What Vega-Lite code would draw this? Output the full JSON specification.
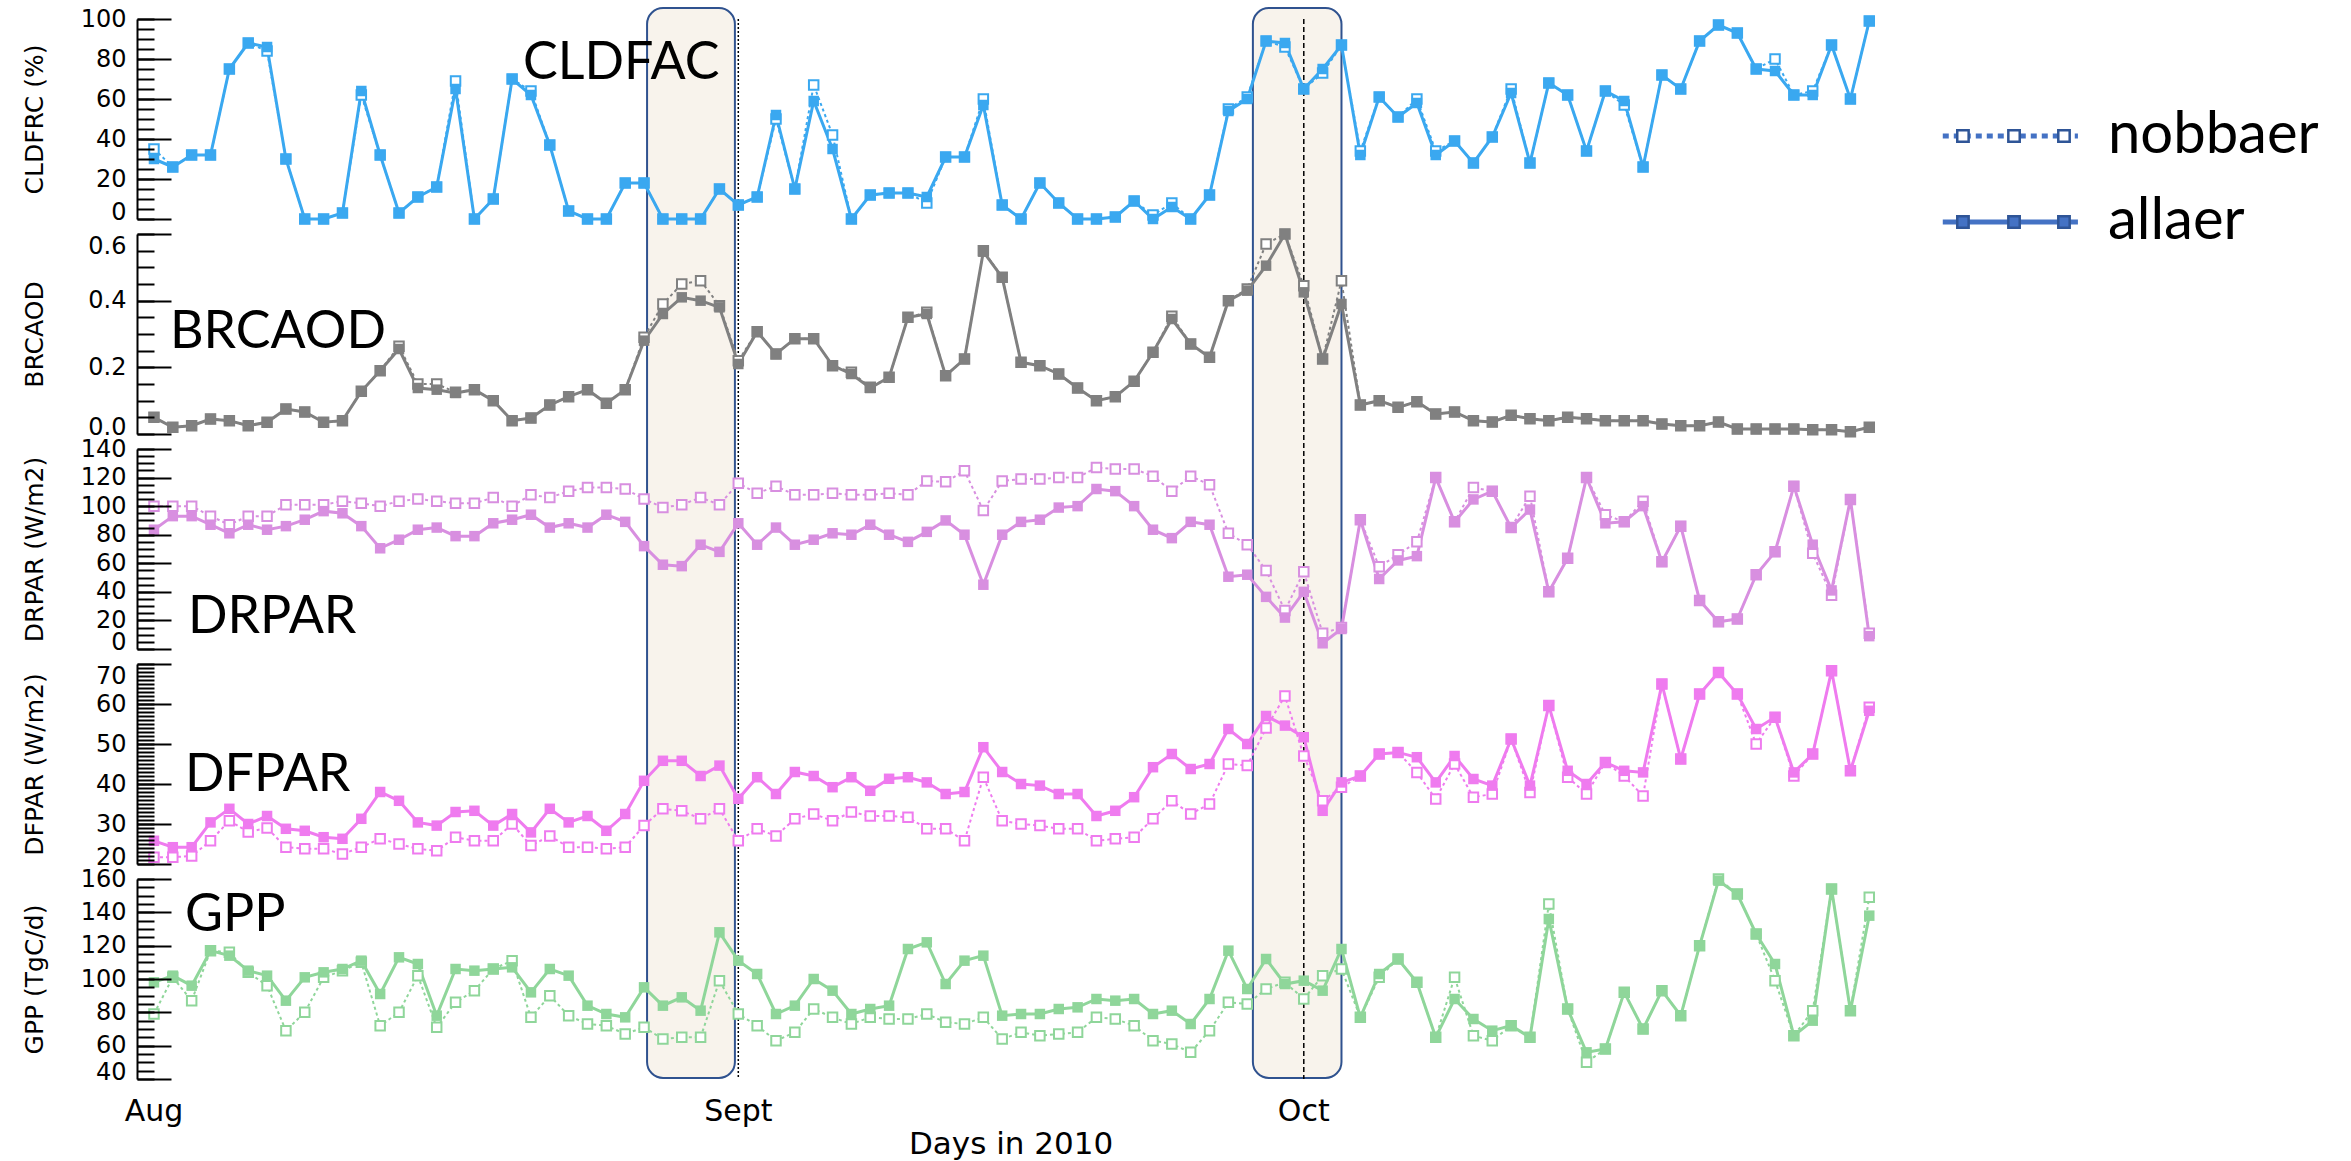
{
"$schema": "https://vega.github.io/schema/vega-lite/v6.json",
"background": "white",
"padding": {"left": 22, "top": 7, "right": 470, "bottom": 85},
"datasets": {
"days": [
{"doy":213,"cld_a":30,"cld_n":35,"brc_a":0.05,"brc_n":0.05,"drp_a":83.5,"drp_n":100,"dfp_a":25.8,"dfp_n":21.7,"gpp_a":98,"gpp_n":79},
{"doy":214,"cld_a":26,"cld_n":26,"brc_a":0.02,"brc_n":0.02,"drp_a":93,"drp_n":100,"dfp_a":24.2,"dfp_n":21.7,"gpp_a":102,"gpp_n":101},
{"doy":215,"cld_a":32,"cld_n":32,"brc_a":0.025,"brc_n":0.025,"drp_a":93,"drp_n":100,"dfp_a":24.2,"dfp_n":22,"gpp_a":96,"gpp_n":87},
{"doy":216,"cld_a":32,"cld_n":32,"brc_a":0.045,"brc_n":0.045,"drp_a":87,"drp_n":93,"dfp_a":30.4,"dfp_n":25.8,"gpp_a":117,"gpp_n":117},
{"doy":217,"cld_a":75,"cld_n":75,"brc_a":0.04,"brc_n":0.04,"drp_a":81,"drp_n":87,"dfp_a":33.8,"dfp_n":30.8,"gpp_a":114,"gpp_n":116},
{"doy":218,"cld_a":88,"cld_n":88,"brc_a":0.025,"brc_n":0.025,"drp_a":87,"drp_n":93,"dfp_a":30,"dfp_n":28,"gpp_a":105,"gpp_n":104},
{"doy":219,"cld_a":86,"cld_n":84,"brc_a":0.035,"brc_n":0.035,"drp_a":83.5,"drp_n":93,"dfp_a":32,"dfp_n":29,"gpp_a":102,"gpp_n":96},
{"doy":220,"cld_a":30,"cld_n":30,"brc_a":0.075,"brc_n":0.075,"drp_a":86,"drp_n":101,"dfp_a":28.8,"dfp_n":24.2,"gpp_a":87,"gpp_n":69},
{"doy":221,"cld_a":0,"cld_n":0,"brc_a":0.066,"brc_n":0.066,"drp_a":90.5,"drp_n":101,"dfp_a":28.3,"dfp_n":23.8,"gpp_a":101,"gpp_n":80},
{"doy":222,"cld_a":0,"cld_n":0,"brc_a":0.035,"brc_n":0.035,"drp_a":96.5,"drp_n":101,"dfp_a":26.7,"dfp_n":23.8,"gpp_a":104,"gpp_n":101},
{"doy":223,"cld_a":3,"cld_n":3,"brc_a":0.04,"brc_n":0.04,"drp_a":95,"drp_n":103.5,"dfp_a":26.3,"dfp_n":22.5,"gpp_a":106,"gpp_n":105},
{"doy":224,"cld_a":64,"cld_n":62,"brc_a":0.128,"brc_n":0.128,"drp_a":86,"drp_n":102,"dfp_a":31.3,"dfp_n":24.2,"gpp_a":111,"gpp_n":110},
{"doy":225,"cld_a":32,"cld_n":32,"brc_a":0.19,"brc_n":0.19,"drp_a":70.5,"drp_n":100,"dfp_a":38,"dfp_n":26.3,"gpp_a":91,"gpp_n":72},
{"doy":226,"cld_a":3,"cld_n":3,"brc_a":0.255,"brc_n":0.263,"drp_a":76.5,"drp_n":103.5,"dfp_a":35.8,"dfp_n":25,"gpp_a":113,"gpp_n":80},
{"doy":227,"cld_a":11,"cld_n":11,"brc_a":0.138,"brc_n":0.15,"drp_a":83.5,"drp_n":105,"dfp_a":30.4,"dfp_n":23.8,"gpp_a":109,"gpp_n":102},
{"doy":228,"cld_a":16,"cld_n":16,"brc_a":0.133,"brc_n":0.15,"drp_a":85,"drp_n":103.5,"dfp_a":29.6,"dfp_n":23.3,"gpp_a":78,"gpp_n":71},
{"doy":229,"cld_a":65,"cld_n":69,"brc_a":0.123,"brc_n":0.125,"drp_a":79,"drp_n":102,"dfp_a":33,"dfp_n":26.7,"gpp_a":106,"gpp_n":86},
{"doy":230,"cld_a":0,"cld_n":0,"brc_a":0.133,"brc_n":0.133,"drp_a":79,"drp_n":102,"dfp_a":33.3,"dfp_n":25.8,"gpp_a":105,"gpp_n":93},
{"doy":231,"cld_a":10,"cld_n":10,"brc_a":0.1,"brc_n":0.1,"drp_a":88,"drp_n":106,"dfp_a":29.6,"dfp_n":25.8,"gpp_a":106,"gpp_n":106},
{"doy":232,"cld_a":70,"cld_n":70,"brc_a":0.04,"brc_n":0.04,"drp_a":90.5,"drp_n":100,"dfp_a":32.5,"dfp_n":30,"gpp_a":107,"gpp_n":111},
{"doy":233,"cld_a":62,"cld_n":64,"brc_a":0.048,"brc_n":0.048,"drp_a":94,"drp_n":108,"dfp_a":27.9,"dfp_n":24.6,"gpp_a":92,"gpp_n":77},
{"doy":234,"cld_a":37,"cld_n":37,"brc_a":0.087,"brc_n":0.087,"drp_a":85,"drp_n":106,"dfp_a":33.8,"dfp_n":27,"gpp_a":106,"gpp_n":90},
{"doy":235,"cld_a":4,"cld_n":4,"brc_a":0.112,"brc_n":0.112,"drp_a":88,"drp_n":110.5,"dfp_a":30.4,"dfp_n":24.2,"gpp_a":102,"gpp_n":78},
{"doy":236,"cld_a":0,"cld_n":0,"brc_a":0.133,"brc_n":0.133,"drp_a":85,"drp_n":113,"dfp_a":32,"dfp_n":24.2,"gpp_a":84,"gpp_n":73},
{"doy":237,"cld_a":0,"cld_n":0,"brc_a":0.092,"brc_n":0.092,"drp_a":94,"drp_n":113,"dfp_a":28.3,"dfp_n":23.8,"gpp_a":79,"gpp_n":72},
{"doy":238,"cld_a":18,"cld_n":18,"brc_a":0.133,"brc_n":0.133,"drp_a":89,"drp_n":112,"dfp_a":32.5,"dfp_n":24.2,"gpp_a":77,"gpp_n":67},
{"doy":239,"cld_a":18,"cld_n":18,"brc_a":0.28,"brc_n":0.29,"drp_a":72,"drp_n":105,"dfp_a":40.8,"dfp_n":29.6,"gpp_a":95,"gpp_n":71},
{"doy":240,"cld_a":0,"cld_n":0,"brc_a":0.36,"brc_n":0.39,"drp_a":59,"drp_n":99,"dfp_a":45.8,"dfp_n":33.8,"gpp_a":84,"gpp_n":64},
{"doy":241,"cld_a":0,"cld_n":0,"brc_a":0.41,"brc_n":0.45,"drp_a":58,"drp_n":101,"dfp_a":45.8,"dfp_n":33.3,"gpp_a":89,"gpp_n":65},
{"doy":242,"cld_a":0,"cld_n":0,"brc_a":0.4,"brc_n":0.46,"drp_a":73,"drp_n":106,"dfp_a":42,"dfp_n":31.3,"gpp_a":81,"gpp_n":65},
{"doy":243,"cld_a":15,"cld_n":15,"brc_a":0.38,"brc_n":0.385,"drp_a":68,"drp_n":101,"dfp_a":44.6,"dfp_n":33.8,"gpp_a":128,"gpp_n":99},
{"doy":244,"cld_a":7,"cld_n":7,"brc_a":0.21,"brc_n":0.22,"drp_a":88,"drp_n":116,"dfp_a":36.3,"dfp_n":25.8,"gpp_a":111,"gpp_n":79},
{"doy":245,"cld_a":11,"cld_n":11,"brc_a":0.307,"brc_n":0.307,"drp_a":73,"drp_n":109,"dfp_a":41.7,"dfp_n":28.8,"gpp_a":103,"gpp_n":72},
{"doy":246,"cld_a":52,"cld_n":50,"brc_a":0.24,"brc_n":0.24,"drp_a":85,"drp_n":114,"dfp_a":37.5,"dfp_n":27,"gpp_a":79,"gpp_n":63},
{"doy":247,"cld_a":15,"cld_n":15,"brc_a":0.286,"brc_n":0.286,"drp_a":73,"drp_n":108,"dfp_a":43,"dfp_n":31.3,"gpp_a":84,"gpp_n":68},
{"doy":248,"cld_a":59,"cld_n":67,"brc_a":0.286,"brc_n":0.286,"drp_a":76.5,"drp_n":108,"dfp_a":42,"dfp_n":32.5,"gpp_a":100,"gpp_n":82},
{"doy":249,"cld_a":35,"cld_n":42,"brc_a":0.205,"brc_n":0.205,"drp_a":81,"drp_n":109,"dfp_a":39.2,"dfp_n":30.8,"gpp_a":93,"gpp_n":77},
{"doy":250,"cld_a":0,"cld_n":0,"brc_a":0.18,"brc_n":0.185,"drp_a":80,"drp_n":108,"dfp_a":41.7,"dfp_n":33,"gpp_a":79,"gpp_n":73},
{"doy":251,"cld_a":12,"cld_n":12,"brc_a":0.138,"brc_n":0.14,"drp_a":87,"drp_n":108,"dfp_a":38.3,"dfp_n":32,"gpp_a":82,"gpp_n":77},
{"doy":252,"cld_a":13,"cld_n":13,"brc_a":0.17,"brc_n":0.17,"drp_a":80,"drp_n":109,"dfp_a":41.3,"dfp_n":32,"gpp_a":84,"gpp_n":76},
{"doy":253,"cld_a":13,"cld_n":13,"brc_a":0.35,"brc_n":0.35,"drp_a":75,"drp_n":108,"dfp_a":41.7,"dfp_n":31.7,"gpp_a":118,"gpp_n":76},
{"doy":254,"cld_a":11,"cld_n":8,"brc_a":0.36,"brc_n":0.365,"drp_a":82,"drp_n":117.6,"dfp_a":40.4,"dfp_n":28.8,"gpp_a":122,"gpp_n":79},
{"doy":255,"cld_a":31,"cld_n":31,"brc_a":0.175,"brc_n":0.175,"drp_a":90,"drp_n":117,"dfp_a":37.5,"dfp_n":28.8,"gpp_a":97,"gpp_n":74},
{"doy":256,"cld_a":31,"cld_n":31,"brc_a":0.225,"brc_n":0.225,"drp_a":80,"drp_n":124.7,"dfp_a":38,"dfp_n":25.8,"gpp_a":111,"gpp_n":73},
{"doy":257,"cld_a":57,"cld_n":60,"brc_a":0.547,"brc_n":0.55,"drp_a":45,"drp_n":97,"dfp_a":49.2,"dfp_n":41.7,"gpp_a":114,"gpp_n":77},
{"doy":258,"cld_a":7,"cld_n":7,"brc_a":0.47,"brc_n":0.47,"drp_a":80,"drp_n":117.6,"dfp_a":43,"dfp_n":30.8,"gpp_a":78,"gpp_n":64},
{"doy":259,"cld_a":0,"cld_n":0,"brc_a":0.215,"brc_n":0.215,"drp_a":89,"drp_n":119,"dfp_a":40,"dfp_n":30,"gpp_a":79,"gpp_n":68},
{"doy":260,"cld_a":18,"cld_n":18,"brc_a":0.205,"brc_n":0.205,"drp_a":90.5,"drp_n":119,"dfp_a":39.6,"dfp_n":29.6,"gpp_a":79,"gpp_n":66},
{"doy":261,"cld_a":8,"cld_n":8,"brc_a":0.18,"brc_n":0.18,"drp_a":99,"drp_n":120,"dfp_a":37.5,"dfp_n":28.8,"gpp_a":82,"gpp_n":67},
{"doy":262,"cld_a":0,"cld_n":0,"brc_a":0.138,"brc_n":0.138,"drp_a":100,"drp_n":120,"dfp_a":37.5,"dfp_n":28.8,"gpp_a":83,"gpp_n":68},
{"doy":263,"cld_a":0,"cld_n":0,"brc_a":0.1,"brc_n":0.1,"drp_a":112,"drp_n":127,"dfp_a":32,"dfp_n":25.8,"gpp_a":88,"gpp_n":77},
{"doy":264,"cld_a":1,"cld_n":1,"brc_a":0.112,"brc_n":0.112,"drp_a":110.5,"drp_n":126,"dfp_a":33.3,"dfp_n":26.3,"gpp_a":87,"gpp_n":76},
{"doy":265,"cld_a":9,"cld_n":9,"brc_a":0.158,"brc_n":0.158,"drp_a":100,"drp_n":126,"dfp_a":36.7,"dfp_n":26.7,"gpp_a":88,"gpp_n":72},
{"doy":266,"cld_a":0,"cld_n":2,"brc_a":0.245,"brc_n":0.245,"drp_a":83.5,"drp_n":121,"dfp_a":44.2,"dfp_n":31.3,"gpp_a":79,"gpp_n":63},
{"doy":267,"cld_a":6,"cld_n":8,"brc_a":0.345,"brc_n":0.353,"drp_a":77.6,"drp_n":110.5,"dfp_a":47.5,"dfp_n":35.8,"gpp_a":81,"gpp_n":61},
{"doy":268,"cld_a":0,"cld_n":0,"brc_a":0.27,"brc_n":0.27,"drp_a":89,"drp_n":121,"dfp_a":43.75,"dfp_n":32.5,"gpp_a":73,"gpp_n":56},
{"doy":269,"cld_a":12,"cld_n":12,"brc_a":0.23,"brc_n":0.23,"drp_a":87,"drp_n":115,"dfp_a":45,"dfp_n":35,"gpp_a":88,"gpp_n":69},
{"doy":270,"cld_a":54,"cld_n":55,"brc_a":0.4,"brc_n":0.4,"drp_a":50.6,"drp_n":81,"dfp_a":53.75,"dfp_n":45,"gpp_a":117,"gpp_n":86},
{"doy":271,"cld_a":60,"cld_n":61,"brc_a":0.43,"brc_n":0.435,"drp_a":52,"drp_n":73,"dfp_a":50,"dfp_n":44.6,"gpp_a":94,"gpp_n":85},
{"doy":272,"cld_a":89,"cld_n":89,"brc_a":0.505,"brc_n":0.57,"drp_a":36.5,"drp_n":55,"dfp_a":57,"dfp_n":54,"gpp_a":112,"gpp_n":94},
{"doy":273,"cld_a":88,"cld_n":86,"brc_a":0.6,"brc_n":0.6,"drp_a":22,"drp_n":27,"dfp_a":54.6,"dfp_n":62,"gpp_a":97,"gpp_n":98},
{"doy":274,"cld_a":65,"cld_n":65,"brc_a":0.425,"brc_n":0.445,"drp_a":40,"drp_n":54,"dfp_a":51.7,"dfp_n":47,"gpp_a":99,"gpp_n":88},
{"doy":275,"cld_a":75,"cld_n":73,"brc_a":0.225,"brc_n":0.225,"drp_a":4,"drp_n":11,"dfp_a":33.3,"dfp_n":35.8,"gpp_a":93,"gpp_n":102},
{"doy":276,"cld_a":87,"cld_n":87,"brc_a":0.39,"brc_n":0.46,"drp_a":14,"drp_n":15,"dfp_a":40.4,"dfp_n":39.2,"gpp_a":118,"gpp_n":106},
{"doy":277,"cld_a":32,"cld_n":34,"brc_a":0.087,"brc_n":0.087,"drp_a":90.5,"drp_n":90.5,"dfp_a":42,"dfp_n":42,"gpp_a":77,"gpp_n":77},
{"doy":278,"cld_a":61,"cld_n":61,"brc_a":0.1,"brc_n":0.1,"drp_a":49,"drp_n":57.6,"dfp_a":47.5,"dfp_n":47.5,"gpp_a":103,"gpp_n":101},
{"doy":279,"cld_a":51,"cld_n":51,"brc_a":0.08,"brc_n":0.08,"drp_a":62,"drp_n":66,"dfp_a":47.9,"dfp_n":47.9,"gpp_a":112,"gpp_n":112},
{"doy":280,"cld_a":58,"cld_n":60,"brc_a":0.097,"brc_n":0.097,"drp_a":65,"drp_n":75,"dfp_a":46.7,"dfp_n":42.9,"gpp_a":98,"gpp_n":98},
{"doy":281,"cld_a":32,"cld_n":34,"brc_a":0.06,"brc_n":0.06,"drp_a":120,"drp_n":120,"dfp_a":40.4,"dfp_n":36.25,"gpp_a":65,"gpp_n":65},
{"doy":282,"cld_a":39,"cld_n":39,"brc_a":0.066,"brc_n":0.066,"drp_a":89,"drp_n":89,"dfp_a":47,"dfp_n":45,"gpp_a":88,"gpp_n":101},
{"doy":283,"cld_a":28,"cld_n":28,"brc_a":0.04,"brc_n":0.04,"drp_a":104.7,"drp_n":113,"dfp_a":41.25,"dfp_n":36.7,"gpp_a":76,"gpp_n":66},
{"doy":284,"cld_a":41,"cld_n":41,"brc_a":0.036,"brc_n":0.036,"drp_a":110.5,"drp_n":110.5,"dfp_a":39.6,"dfp_n":37.5,"gpp_a":69,"gpp_n":63},
{"doy":285,"cld_a":63,"cld_n":65,"brc_a":0.056,"brc_n":0.056,"drp_a":85,"drp_n":85,"dfp_a":51.25,"dfp_n":51.25,"gpp_a":72,"gpp_n":72},
{"doy":286,"cld_a":28,"cld_n":28,"brc_a":0.046,"brc_n":0.046,"drp_a":97.6,"drp_n":107,"dfp_a":39.6,"dfp_n":37.9,"gpp_a":65,"gpp_n":65},
{"doy":287,"cld_a":68,"cld_n":68,"brc_a":0.04,"brc_n":0.04,"drp_a":40,"drp_n":40,"dfp_a":59.6,"dfp_n":59.6,"gpp_a":136,"gpp_n":145},
{"doy":288,"cld_a":62,"cld_n":62,"brc_a":0.05,"brc_n":0.05,"drp_a":63.5,"drp_n":63.5,"dfp_a":43.3,"dfp_n":41.7,"gpp_a":82,"gpp_n":82},
{"doy":289,"cld_a":34,"cld_n":34,"brc_a":0.046,"brc_n":0.046,"drp_a":120,"drp_n":120,"dfp_a":40,"dfp_n":37.5,"gpp_a":56,"gpp_n":50},
{"doy":290,"cld_a":64,"cld_n":64,"brc_a":0.04,"brc_n":0.04,"drp_a":88,"drp_n":94,"dfp_a":45.4,"dfp_n":45.4,"gpp_a":58,"gpp_n":58},
{"doy":291,"cld_a":59,"cld_n":57,"brc_a":0.04,"brc_n":0.04,"drp_a":89,"drp_n":89,"dfp_a":43.3,"dfp_n":42,"gpp_a":92,"gpp_n":92},
{"doy":292,"cld_a":26,"cld_n":26,"brc_a":0.04,"brc_n":0.04,"drp_a":100,"drp_n":103.5,"dfp_a":42.9,"dfp_n":37,"gpp_a":70,"gpp_n":70},
{"doy":293,"cld_a":72,"cld_n":72,"brc_a":0.03,"brc_n":0.03,"drp_a":61,"drp_n":61,"dfp_a":65,"dfp_n":65,"gpp_a":93,"gpp_n":93},
{"doy":294,"cld_a":65,"cld_n":65,"brc_a":0.025,"brc_n":0.025,"drp_a":86,"drp_n":86,"dfp_a":46.25,"dfp_n":46.25,"gpp_a":78,"gpp_n":78},
{"doy":295,"cld_a":89,"cld_n":89,"brc_a":0.025,"brc_n":0.025,"drp_a":34,"drp_n":34,"dfp_a":62.5,"dfp_n":62.5,"gpp_a":120,"gpp_n":120},
{"doy":296,"cld_a":97,"cld_n":97,"brc_a":0.036,"brc_n":0.036,"drp_a":19,"drp_n":19,"dfp_a":67.9,"dfp_n":67.9,"gpp_a":159,"gpp_n":160},
{"doy":297,"cld_a":93,"cld_n":93,"brc_a":0.015,"brc_n":0.015,"drp_a":21,"drp_n":21,"dfp_a":62.5,"dfp_n":62.5,"gpp_a":151,"gpp_n":151},
{"doy":298,"cld_a":75,"cld_n":75,"brc_a":0.015,"brc_n":0.015,"drp_a":52,"drp_n":52,"dfp_a":53.75,"dfp_n":50,"gpp_a":127,"gpp_n":127},
{"doy":299,"cld_a":74,"cld_n":80,"brc_a":0.015,"brc_n":0.015,"drp_a":68,"drp_n":68,"dfp_a":56.7,"dfp_n":56.7,"gpp_a":109,"gpp_n":99},
{"doy":300,"cld_a":62,"cld_n":62,"brc_a":0.015,"brc_n":0.015,"drp_a":114,"drp_n":114,"dfp_a":42.9,"dfp_n":42,"gpp_a":66,"gpp_n":66},
{"doy":301,"cld_a":62,"cld_n":64,"brc_a":0.013,"brc_n":0.013,"drp_a":73,"drp_n":67,"dfp_a":47.5,"dfp_n":47.5,"gpp_a":75,"gpp_n":81},
{"doy":302,"cld_a":87,"cld_n":87,"brc_a":0.013,"brc_n":0.013,"drp_a":41,"drp_n":37.6,"dfp_a":68.3,"dfp_n":68.3,"gpp_a":154,"gpp_n":154},
{"doy":303,"cld_a":60,"cld_n":60,"brc_a":0.007,"brc_n":0.007,"drp_a":104.7,"drp_n":104.7,"dfp_a":43.3,"dfp_n":43.3,"gpp_a":81,"gpp_n":81},
{"doy":304,"cld_a":99,"cld_n":99,"brc_a":0.02,"brc_n":0.02,"drp_a":9,"drp_n":11,"dfp_a":58.3,"dfp_n":59.2,"gpp_a":138,"gpp_n":149}
],
"periods": [{"start": 239.16, "end": 243.82}, {"start": 271.3, "end": 276.0}],
"legend_nob": [{"series": "nobbaer"}],
"legend_all": [{"series": "allaer"}],
"months": [{"label": "Aug", "doy": 213}, {"label": "Sept", "doy": 244}, {"label": "Oct", "doy": 274}]
},
"hconcat": [
{
"vconcat": [
{
"width": 1753, "height": 200,
"data": {"name": "days"},
"layer": [
{"data": {"name": "periods"}, "mark": {"type": "rect", "fill": "#f8f3ec", "stroke": "#2f528f", "strokeWidth": 2, "cornerRadius": 16},
 "encoding": {"x": {"field": "start", "type": "quantitative", "axis": null}, "x2": {"field": "end"}, "y": {"datum": 105.5, "type": "quantitative", "axis": null}, "y2": {"datum": -429.5}}},
{"data": {"values": [{"event": "Sept 1"}]}, "mark": {"type": "rule", "color": "black", "strokeWidth": 1.5, "strokeDash": [2, 2]},
 "encoding": {"x": {"datum": 244, "type": "quantitative", "axis": null}, "y": {"datum": 100, "type": "quantitative", "axis": null}, "y2": {"datum": -430}}},
{"data": {"values": [{"event": "Oct 1"}]}, "mark": {"type": "rule", "color": "black", "strokeWidth": 1.5, "strokeDash": [5, 3]},
 "encoding": {"x": {"datum": 274, "type": "quantitative", "axis": null}, "y": {"datum": 100, "type": "quantitative", "axis": null}, "y2": {"datum": -430}}},
{"mark": {"type": "line", "color": "#3aa8f0", "strokeWidth": 2, "strokeDash": [3, 3]},
 "encoding": {"x": {"field": "doy", "type": "quantitative", "scale": {"domain": [212.1, 305.1], "nice": false, "zero": false}, "axis": {"values": [213,223,233,244,254,264,274,284,294], "labels": false, "title": null, "tickSize": -8, "zindex": 1}},
  "y": {"field": "cld_n", "type": "quantitative", "scale": {"domain": [0, 100], "nice": false, "zero": false}, "axis": {"orient": "left", "title": "CLDFRC (%)", "values": [0,20,40,60,80,100], "tickSize": -34, "labelPadding": 45, "labelFontSize": 24, "labelFlush": false, "labelOverlap": false, "labelBaseline": {"condition": {"test": "datum.value == 0", "value": "alphabetic"}, "value": "middle"}, "titleFontSize": 25, "titlePadding": 30, "minExtent": 60, "maxExtent": 60, "zindex": 1}}}},
{"mark": {"type": "line", "color": "#3aa8f0", "strokeWidth": 3},
 "encoding": {"x": {"field": "doy", "type": "quantitative", "axis": null}, "y": {"field": "cld_a", "type": "quantitative", "axis": {"orient": "left", "values": [0,5,10,15,20,25,30,35,40,45,50,55,60,65,70,75,80,85,90,95,100], "tickSize": -17, "labels": false, "domain": false, "title": null, "minExtent": 60, "maxExtent": 60, "zindex": 1}}}},
{"mark": {"type": "point", "shape": "square", "size": 90, "filled": true, "fill": "white", "stroke": "#3aa8f0", "strokeWidth": 2, "opacity": 1},
 "encoding": {"x": {"field": "doy", "type": "quantitative", "axis": null}, "y": {"field": "cld_n", "type": "quantitative", "axis": null}}},
{"mark": {"type": "point", "shape": "square", "size": 110, "filled": true, "color": "#3aa8f0", "opacity": 1},
 "encoding": {"x": {"field": "doy", "type": "quantitative", "axis": null}, "y": {"field": "cld_a", "type": "quantitative", "axis": null}}},
{"data": {"values": [{"label": "CLDFAC"}]}, "mark": {"type": "text", "font": "Lato", "fontSize": 52, "align": "left", "baseline": "alphabetic", "color": "black"},
 "encoding": {"x": {"datum": 232.58, "type": "quantitative", "axis": null}, "y": {"datum": 70, "type": "quantitative", "axis": null}, "text": {"field": "label"}}},
{"data": {"name": "legend_nob"}, "mark": {"type": "rule", "color": "#4472c4", "strokeWidth": 5, "strokeDash": [6, 5]},
 "encoding": {"x": {"datum": 307.9, "type": "quantitative", "axis": null}, "x2": {"datum": 315.07}, "y": {"datum": 41.5, "type": "quantitative", "axis": null}}},
{"data": {"name": "legend_all"}, "mark": {"type": "rule", "color": "#4472c4", "strokeWidth": 5},
 "encoding": {"x": {"datum": 307.9, "type": "quantitative", "axis": null}, "x2": {"datum": 315.07}, "y": {"datum": -1.5, "type": "quantitative", "axis": null}}},
{"data": {"name": "legend_nob"}, "mark": {"type": "point", "shape": "square", "size": 130, "filled": true, "fill": "white", "stroke": "#2f5597", "strokeWidth": 2.5, "opacity": 1},
 "encoding": {"x": {"datum": 308.97, "type": "quantitative", "axis": null}, "y": {"datum": 41.5, "type": "quantitative", "axis": null}}},
{"data": {"name": "legend_nob"}, "mark": {"type": "point", "shape": "square", "size": 130, "filled": true, "fill": "white", "stroke": "#2f5597", "strokeWidth": 2.5, "opacity": 1},
 "encoding": {"x": {"datum": 311.68, "type": "quantitative", "axis": null}, "y": {"datum": 41.5, "type": "quantitative", "axis": null}}},
{"data": {"name": "legend_nob"}, "mark": {"type": "point", "shape": "square", "size": 130, "filled": true, "fill": "white", "stroke": "#2f5597", "strokeWidth": 2.5, "opacity": 1},
 "encoding": {"x": {"datum": 314.33, "type": "quantitative", "axis": null}, "y": {"datum": 41.5, "type": "quantitative", "axis": null}}},
{"data": {"name": "legend_all"}, "mark": {"type": "point", "shape": "square", "size": 130, "filled": true, "fill": "#4472c4", "stroke": "#2f5597", "strokeWidth": 2.5, "opacity": 1},
 "encoding": {"x": {"datum": 308.97, "type": "quantitative", "axis": null}, "y": {"datum": -1.5, "type": "quantitative", "axis": null}}},
{"data": {"name": "legend_all"}, "mark": {"type": "point", "shape": "square", "size": 130, "filled": true, "fill": "#4472c4", "stroke": "#2f5597", "strokeWidth": 2.5, "opacity": 1},
 "encoding": {"x": {"datum": 311.68, "type": "quantitative", "axis": null}, "y": {"datum": -1.5, "type": "quantitative", "axis": null}}},
{"data": {"name": "legend_all"}, "mark": {"type": "point", "shape": "square", "size": 130, "filled": true, "fill": "#4472c4", "stroke": "#2f5597", "strokeWidth": 2.5, "opacity": 1},
 "encoding": {"x": {"datum": 314.33, "type": "quantitative", "axis": null}, "y": {"datum": -1.5, "type": "quantitative", "axis": null}}},
{"data": {"name": "legend_nob"}, "mark": {"type": "text", "font": "Lato", "fontSize": 58, "align": "left", "baseline": "middle", "color": "black"},
 "encoding": {"x": {"datum": 316.66, "type": "quantitative", "axis": null}, "y": {"datum": 41.5, "type": "quantitative", "axis": null}, "text": {"field": "series"}}},
{"data": {"name": "legend_all"}, "mark": {"type": "text", "font": "Lato", "fontSize": 58, "align": "left", "baseline": "middle", "color": "black"},
 "encoding": {"x": {"datum": 316.66, "type": "quantitative", "axis": null}, "y": {"datum": -1.5, "type": "quantitative", "axis": null}, "text": {"field": "series"}}}
],
"resolve": {"axis": {"y": "independent"}}
},
{
"width": 1753, "height": 200,
"data": {"name": "days"},
"layer": [
{"mark": {"type": "line", "color": "#808080", "strokeWidth": 2, "strokeDash": [3, 3]},
 "encoding": {"x": {"field": "doy", "type": "quantitative", "scale": {"domain": [212.1, 305.1], "nice": false, "zero": false}, "axis": {"values": [213,223,233,244,254,264,274,284,294], "labels": false, "title": null, "tickSize": -8, "zindex": 1}},
  "y": {"field": "brc_n", "type": "quantitative", "scale": {"domain": [0, 0.6], "nice": false, "zero": false}, "axis": {"orient": "left", "title": "BRCAOD", "values": [0,0.2,0.4,0.6], "format": ".1f", "tickSize": -34, "labelPadding": 45, "labelFontSize": 24, "labelFlush": false, "labelOverlap": false, "labelBaseline": {"condition": [{"test": "datum.value == 0", "value": "alphabetic"}, {"test": "datum.value > 0.59", "value": "top"}], "value": "middle"}, "titleFontSize": 25, "titlePadding": 30, "minExtent": 60, "maxExtent": 60, "zindex": 1}}}},
{"mark": {"type": "line", "color": "#808080", "strokeWidth": 3},
 "encoding": {"x": {"field": "doy", "type": "quantitative", "axis": null}, "y": {"field": "brc_a", "type": "quantitative", "axis": {"orient": "left", "values": [0,0.05,0.1,0.15,0.2,0.25,0.3,0.35,0.4,0.45,0.5,0.55,0.6], "tickSize": -17, "labels": false, "domain": false, "title": null, "minExtent": 60, "maxExtent": 60, "zindex": 1}}}},
{"mark": {"type": "point", "shape": "square", "size": 90, "filled": true, "fill": "white", "stroke": "#808080", "strokeWidth": 2, "opacity": 1},
 "encoding": {"x": {"field": "doy", "type": "quantitative", "axis": null}, "y": {"field": "brc_n", "type": "quantitative", "axis": null}}},
{"mark": {"type": "point", "shape": "square", "size": 110, "filled": true, "color": "#808080", "opacity": 1},
 "encoding": {"x": {"field": "doy", "type": "quantitative", "axis": null}, "y": {"field": "brc_a", "type": "quantitative", "axis": null}}},
{"data": {"values": [{"label": "BRCAOD"}]}, "mark": {"type": "text", "font": "Lato", "fontSize": 52, "align": "left", "baseline": "alphabetic", "color": "black"},
 "encoding": {"x": {"datum": 213.85, "type": "quantitative", "axis": null}, "y": {"datum": 0.258, "type": "quantitative", "axis": null}, "text": {"field": "label"}}}
],
"resolve": {"axis": {"y": "independent"}}
},
{
"width": 1753, "height": 200,
"data": {"name": "days"},
"layer": [
{"mark": {"type": "line", "color": "#d88fe0", "strokeWidth": 2, "strokeDash": [3, 3]},
 "encoding": {"x": {"field": "doy", "type": "quantitative", "scale": {"domain": [212.1, 305.1], "nice": false, "zero": false}, "axis": {"values": [213,223,233,244,254,264,274,284,294], "labels": false, "title": null, "tickSize": -8, "zindex": 1}},
  "y": {"field": "drp_n", "type": "quantitative", "scale": {"domain": [0, 140], "nice": false, "zero": false}, "axis": {"orient": "left", "title": "DRPAR (W/m2)", "values": [0,20,40,60,80,100,120,140], "tickSize": -34, "labelPadding": 45, "labelFontSize": 24, "labelFlush": false, "labelOverlap": false, "labelBaseline": {"condition": {"test": "datum.value == 0", "value": "alphabetic"}, "value": "middle"}, "titleFontSize": 25, "titlePadding": 30, "minExtent": 60, "maxExtent": 60, "zindex": 1}}}},
{"mark": {"type": "line", "color": "#d88fe0", "strokeWidth": 3},
 "encoding": {"x": {"field": "doy", "type": "quantitative", "axis": null}, "y": {"field": "drp_a", "type": "quantitative", "axis": {"orient": "left", "values": [0,5,10,15,20,25,30,35,40,45,50,55,60,65,70,75,80,85,90,95,100,105,110,115,120,125,130,135,140], "tickSize": -17, "labels": false, "domain": false, "title": null, "minExtent": 60, "maxExtent": 60, "zindex": 1}}}},
{"mark": {"type": "point", "shape": "square", "size": 90, "filled": true, "fill": "white", "stroke": "#d88fe0", "strokeWidth": 2, "opacity": 1},
 "encoding": {"x": {"field": "doy", "type": "quantitative", "axis": null}, "y": {"field": "drp_n", "type": "quantitative", "axis": null}}},
{"mark": {"type": "point", "shape": "square", "size": 110, "filled": true, "color": "#d88fe0", "opacity": 1},
 "encoding": {"x": {"field": "doy", "type": "quantitative", "axis": null}, "y": {"field": "drp_a", "type": "quantitative", "axis": null}}},
{"data": {"values": [{"label": "DRPAR"}]}, "mark": {"type": "text", "font": "Lato", "fontSize": 52, "align": "left", "baseline": "alphabetic", "color": "black"},
 "encoding": {"x": {"datum": 214.8, "type": "quantitative", "axis": null}, "y": {"datum": 11.2, "type": "quantitative", "axis": null}, "text": {"field": "label"}}}
],
"resolve": {"axis": {"y": "independent"}}
},
{
"width": 1753, "height": 200,
"data": {"name": "days"},
"layer": [
{"mark": {"type": "line", "color": "#ef7bef", "strokeWidth": 2, "strokeDash": [3, 3]},
 "encoding": {"x": {"field": "doy", "type": "quantitative", "scale": {"domain": [212.1, 305.1], "nice": false, "zero": false}, "axis": {"values": [213,223,233,244,254,264,274,284,294], "labels": false, "title": null, "tickSize": -8, "zindex": 1}},
  "y": {"field": "dfp_n", "type": "quantitative", "scale": {"domain": [20, 70], "nice": false, "zero": false}, "axis": {"orient": "left", "title": "DFPAR (W/m2)", "values": [20,30,40,50,60,70], "tickSize": -34, "labelPadding": 45, "labelFontSize": 24, "labelFlush": false, "labelOverlap": false, "labelBaseline": {"condition": [{"test": "datum.value == 20", "value": "alphabetic"}, {"test": "datum.value == 70", "value": "top"}], "value": "middle"}, "titleFontSize": 25, "titlePadding": 30, "minExtent": 60, "maxExtent": 60, "zindex": 1}}}},
{"mark": {"type": "line", "color": "#ef7bef", "strokeWidth": 3},
 "encoding": {"x": {"field": "doy", "type": "quantitative", "axis": null}, "y": {"field": "dfp_a", "type": "quantitative", "axis": {"orient": "left", "values": [20,21,22,23,24,25,26,27,28,29,30,31,32,33,34,35,36,37,38,39,40,41,42,43,44,45,46,47,48,49,50,51,52,53,54,55,56,57,58,59,60,61,62,63,64,65,66,67,68,69,70], "tickSize": -17, "labels": false, "domain": false, "title": null, "minExtent": 60, "maxExtent": 60, "zindex": 1}}}},
{"mark": {"type": "point", "shape": "square", "size": 90, "filled": true, "fill": "white", "stroke": "#ef7bef", "strokeWidth": 2, "opacity": 1},
 "encoding": {"x": {"field": "doy", "type": "quantitative", "axis": null}, "y": {"field": "dfp_n", "type": "quantitative", "axis": null}}},
{"mark": {"type": "point", "shape": "square", "size": 110, "filled": true, "color": "#ef7bef", "opacity": 1},
 "encoding": {"x": {"field": "doy", "type": "quantitative", "axis": null}, "y": {"field": "dfp_a", "type": "quantitative", "axis": null}}},
{"data": {"values": [{"label": "DFPAR"}]}, "mark": {"type": "text", "font": "Lato", "fontSize": 52, "align": "left", "baseline": "alphabetic", "color": "black"},
 "encoding": {"x": {"datum": 214.65, "type": "quantitative", "axis": null}, "y": {"datum": 38.25, "type": "quantitative", "axis": null}, "text": {"field": "label"}}}
],
"resolve": {"axis": {"y": "independent"}}
},
{
"width": 1753, "height": 200,
"data": {"name": "days"},
"layer": [
{"mark": {"type": "line", "color": "#8fd69a", "strokeWidth": 2, "strokeDash": [3, 3]},
 "encoding": {"x": {"field": "doy", "type": "quantitative", "scale": {"domain": [212.1, 305.1], "nice": false, "zero": false}, "axis": {"values": [213,223,233,244,254,264,274,284,294], "labels": false, "title": null, "tickSize": -8, "zindex": 1}},
  "y": {"field": "gpp_n", "type": "quantitative", "scale": {"domain": [40, 160], "nice": false, "zero": false}, "axis": {"orient": "left", "title": "GPP (TgC/d)", "values": [40,60,80,100,120,140,160], "tickSize": -34, "labelPadding": 45, "labelFontSize": 24, "labelFlush": false, "labelOverlap": false, "labelBaseline": {"condition": {"test": "datum.value == 40", "value": "alphabetic"}, "value": "middle"}, "titleFontSize": 25, "titlePadding": 30, "minExtent": 60, "maxExtent": 60, "zindex": 1}}}},
{"mark": {"type": "line", "color": "#8fd69a", "strokeWidth": 3},
 "encoding": {"x": {"field": "doy", "type": "quantitative", "axis": null}, "y": {"field": "gpp_a", "type": "quantitative", "axis": {"orient": "left", "values": [40,45,50,55,60,65,70,75,80,85,90,95,100,105,110,115,120,125,130,135,140,145,150,155,160], "tickSize": -17, "labels": false, "domain": false, "title": null, "minExtent": 60, "maxExtent": 60, "zindex": 1}}}},
{"mark": {"type": "point", "shape": "square", "size": 90, "filled": true, "fill": "white", "stroke": "#8fd69a", "strokeWidth": 2, "opacity": 1},
 "encoding": {"x": {"field": "doy", "type": "quantitative", "axis": null}, "y": {"field": "gpp_n", "type": "quantitative", "axis": null}}},
{"mark": {"type": "point", "shape": "square", "size": 110, "filled": true, "color": "#8fd69a", "opacity": 1},
 "encoding": {"x": {"field": "doy", "type": "quantitative", "axis": null}, "y": {"field": "gpp_a", "type": "quantitative", "axis": null}}},
{"data": {"values": [{"label": "GPP"}]}, "mark": {"type": "text", "font": "Lato", "fontSize": 52, "align": "left", "baseline": "alphabetic", "color": "black"},
 "encoding": {"x": {"datum": 214.65, "type": "quantitative", "axis": null}, "y": {"datum": 128.8, "type": "quantitative", "axis": null}, "text": {"field": "label"}}},
{"data": {"name": "months"}, "mark": {"type": "text", "font": "DejaVu Sans", "fontSize": 30, "align": "center", "baseline": "alphabetic", "color": "black"},
 "encoding": {"x": {"field": "doy", "type": "quantitative", "axis": null}, "y": {"datum": 14.8, "type": "quantitative", "axis": null}, "text": {"field": "label"}}},
{"data": {"values": [{"label": "Days in 2010"}]}, "mark": {"type": "text", "font": "DejaVu Sans", "fontSize": 31, "align": "center", "baseline": "alphabetic", "color": "black"},
 "encoding": {"x": {"datum": 258.47, "type": "quantitative", "axis": null}, "y": {"datum": -5, "type": "quantitative", "axis": null}, "text": {"field": "label"}}}
],
"resolve": {"axis": {"y": "independent"}}
}
],
"spacing": 15,
"bounds": "flush"
}
],
"config": {
"view": {"stroke": null},
"axis": {"grid": false, "domainColor": "black", "tickColor": "black", "labelColor": "black", "titleColor": "black", "labelFont": "DejaVu Sans", "titleFont": "DejaVu Sans", "titleFontWeight": "normal", "domainWidth": 2, "tickWidth": 2}
}
}
